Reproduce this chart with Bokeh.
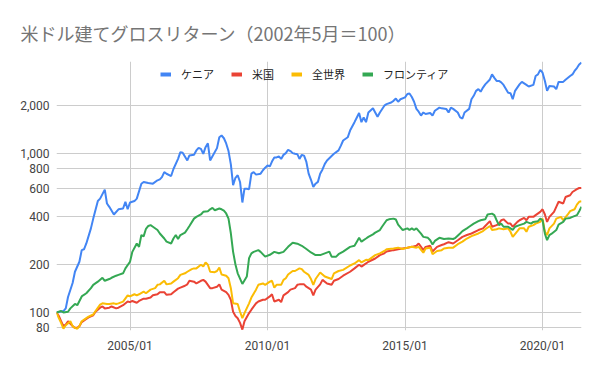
import calendar
import datetime as dt
from bokeh.plotting import figure
from bokeh.models import (FixedTicker, Legend, LegendItem, Title, Range1d,
                          DatetimeTickFormatter, NumeralTickFormatter)
from bokeh.embed import file_html
from bokeh.resources import INLINE

title_text = "米ドル建てグロスリターン（2002年5月＝100）"
series_names = ["ケニア", "米国", "全世界", "フロンティア"]
series_colors = ["#4285F4", "#EA4335", "#FBBC04", "#34A853"]
start_year, start_month = 2002, 5
end_month_index = 229
x_tick_labels = ["2005/01", "2010/01", "2015/01", "2020/01"]
y_ticks = [80, 100, 200, 400, 600, 800, 1000, 2000]
y_min, y_max = 77, 3760

# (months since 2002/05, index value)
kenya = [(0,100),(3,102),(4,106),(5,125),(7,153),(8,180),(10,208),(11,246),(12,249),(13,271),(15,337),(16,388),(18,501),(19,518),(21,590),(22,483),(23,460),(25,412),(27,444),(29,449),(30,494),(31,444),(32,490),(34,500),(35,518),(37,643),(38,659),(40,649),(42,643),(44,675),(45,684),(46,707),(47,760),(48,742),(50,718),(51,795),(53,921),(54,1015),(55,1005),(57,900),(58,967),(60,977),(61,1040),(62,1080),(63,1064),(64,990),(65,1090),(66,1153),(67,900),(69,1015),(70,1075),(71,1257),(72,1290),(73,1240),(74,1150),(75,1030),(76,850),(77,630),(78,700),(79,726),(80,659),(81,490),(82,598),(83,598),(84,594),(85,743),(86,760),(87,733),(89,743),(90,781),(91,810),(92,836),(93,825),(94,885),(95,940),(96,940),(97,955),(98,920),(99,975),(100,1000),(101,1050),(102,1030),(103,1000),(104,990),(105,985),(106,920),(107,975),(108,965),(109,880),(110,743),(111,680),(112,613),(113,643),(114,660),(115,743),(116,790),(117,856),(118,900),(120,960),(121,990),(123,1040),(124,1115),(125,1200),(127,1257),(128,1385),(130,1564),(131,1675),(132,1785),(133,1564),(134,1675),(135,1564),(136,1800),(138,1910),(139,1800),(140,1690),(141,1800),(143,1985),(144,2030),(146,2080),(147,2130),(148,2200),(149,2100),(150,2180),(152,2240),(153,2350),(154,2370),(155,2250),(156,2100),(157,1895),(158,1820),(159,1720),(160,1800),(161,1760),(163,1785),(164,1720),(165,1845),(167,1930),(168,1910),(170,1895),(171,1800),(172,1930),(173,1895),(175,1800),(176,1675),(177,1650),(178,1800),(180,1895),(181,2180),(182,2290),(183,2460),(184,2520),(185,2430),(186,2580),(187,2700),(189,2900),(190,3120),(191,2970),(192,2840),(193,2840),(194,2780),(195,2680),(197,2390),(198,2380),(199,2180),(200,2460),(202,2700),(203,2800),(205,2680),(206,2620),(208,2680),(209,3050),(210,3120),(211,3330),(212,3200),(213,2840),(214,2460),(215,2640),(217,2620),(218,2520),(219,2800),(221,2800),(222,2890),(224,3050),(225,3120),(226,3280),(227,3420),(228,3600),(229,3700)]

usa = [(0,100),(1,95),(2,88),(3,82),(4,84),(5,88),(7,82),(8,80),(9,80),(10,82),(11,87),(13,91),(14,93),(16,96),(17,101),(19,107),(20,109),(21,106),(23,107),(24,109),(26,106),(27,107),(29,111),(31,117),(32,116),(33,118),(35,115),(36,118),(38,122),(39,122),(41,124),(42,128),(44,130),(45,134),(47,134),(48,129),(50,130),(51,134),(53,141),(54,143),(56,147),(57,150),(58,158),(60,156),(61,152),(63,158),(64,160),(65,156),(67,142),(68,142),(70,145),(71,150),(72,139),(74,134),(75,129),(76,120),(77,101),(78,95),(79,92),(80,86),(81,78),(82,88),(84,99),(85,104),(87,114),(88,117),(90,120),(91,120),(93,126),(94,130),(95,117),(97,120),(98,116),(99,128),(101,134),(102,139),(104,142),(105,149),(106,150),(108,150),(109,145),(111,139),(112,128),(113,139),(115,150),(116,160),(118,152),(120,149),(121,158),(123,162),(125,170),(128,180),(130,189),(132,199),(133,194),(135,203),(136,208),(139,218),(141,229),(143,235),(144,241),(147,246),(149,249),(151,252),(153,255),(155,258),(157,262),(158,271),(160,246),(161,258),(163,262),(164,241),(166,258),(168,265),(169,268),(171,276),(173,271),(175,284),(177,298),(179,306),(181,313),(184,329),(186,337),(187,349),(189,374),(190,345),(192,353),(193,361),(194,379),(195,384),(197,361),(198,361),(199,345),(201,370),(202,379),(204,392),(205,379),(206,398),(208,398),(209,408),(211,428),(212,444),(213,412),(214,370),(215,398),(217,428),(218,460),(219,495),(221,483),(222,530),(224,544),(225,570),(227,594),(228,604),(229,604)]

world = [(0,100),(1,92),(2,86),(3,79),(4,83),(6,88),(7,82),(8,80),(9,79),(10,82),(11,88),(13,92),(14,94),(16,97),(17,102),(19,112),(20,114),(22,113),(23,113),(25,114),(26,113),(27,114),(29,117),(31,128),(32,126),(34,130),(35,128),(36,130),(38,135),(39,132),(41,139),(43,142),(44,149),(45,150),(47,158),(48,150),(50,152),(51,156),(53,164),(54,172),(56,176),(57,180),(59,187),(60,189),(61,189),(63,199),(64,194),(65,206),(66,199),(67,180),(69,179),(70,182),(71,191),(72,173),(74,170),(75,164),(76,142),(77,114),(79,113),(80,101),(81,92),(82,99),(84,114),(85,124),(87,139),(88,149),(90,152),(91,149),(93,156),(94,158),(95,143),(96,149),(98,149),(99,160),(100,164),(101,173),(103,182),(104,182),(106,189),(107,187),(108,180),(110,172),(111,162),(112,149),(113,162),(115,178),(117,168),(120,162),(121,176),(123,182),(125,185),(128,197),(130,203),(132,213),(133,206),(135,214),(136,213),(139,229),(141,235),(143,243),(144,249),(147,252),(149,255),(151,250),(153,255),(155,258),(157,255),(158,258),(160,237),(161,252),(163,255),(164,232),(166,243),(168,246),(169,252),(171,255),(173,255),(175,268),(177,278),(179,291),(181,301),(184,313),(186,324),(187,333),(189,349),(190,329),(192,333),(193,337),(195,333),(197,337),(198,321),(199,298),(201,324),(202,337),(204,337),(205,321),(206,345),(208,353),(209,361),(211,370),(212,388),(213,321),(214,306),(215,337),(217,361),(218,388),(220,398),(221,379),(223,412),(224,432),(226,444),(227,475),(228,495),(229,499)]

frontier = [(0,100),(2,102),(3,100),(5,101),(6,106),(8,113),(9,111),(11,126),(12,129),(13,132),(15,142),(16,149),(18,156),(20,165),(21,158),(23,162),(24,165),(26,170),(27,172),(29,176),(30,189),(32,208),(33,240),(35,271),(36,258),(37,306),(38,300),(39,335),(40,349),(41,353),(42,345),(44,329),(45,313),(47,291),(48,278),(50,271),(51,291),(52,306),(53,289),(54,306),(56,317),(57,333),(58,349),(60,388),(61,398),(63,412),(64,428),(66,432),(67,444),(68,453),(69,438),(71,449),(72,444),(73,435),(74,418),(75,388),(76,314),(77,240),(78,200),(79,176),(81,151),(83,168),(84,219),(85,235),(86,240),(88,246),(89,240),(91,224),(93,230),(95,240),(97,235),(99,240),(101,258),(103,274),(105,270),(107,262),(109,250),(111,238),(113,229),(115,229),(117,235),(119,241),(120,224),(122,224),(123,232),(125,241),(128,258),(130,262),(131,278),(132,294),(133,278),(135,291),(136,298),(138,309),(139,317),(141,329),(142,345),(144,379),(145,384),(147,388),(148,383),(149,356),(151,329),(153,337),(154,329),(155,337),(156,329),(157,337),(159,312),(160,298),(162,294),(163,284),(164,267),(165,281),(167,294),(169,289),(171,291),(173,289),(174,294),(176,313),(177,324),(179,337),(180,345),(182,361),(184,374),(185,379),(187,384),(188,412),(190,417),(191,408),(192,379),(193,353),(194,361),(195,345),(197,345),(198,337),(199,329),(200,345),(202,353),(204,361),(205,370),(207,361),(208,370),(210,374),(211,388),(212,379),(213,312),(214,284),(215,306),(216,312),(218,329),(219,356),(221,370),(222,388),(224,392),(225,398),(227,408),(228,432),(229,460)]

all_series = [kenya, usa, world, frontier]


def month_to_date(m):
    t = start_month - 1 + m
    return dt.datetime(start_year + t // 12, t % 12 + 1, 1)


def to_ms(d):
    return calendar.timegm(d.timetuple()) * 1000.0


p = figure(width=584, height=355, x_axis_type="datetime", y_axis_type="log",
           x_range=Range1d(month_to_date(0), month_to_date(end_month_index)),
           y_range=Range1d(y_min, y_max),
           output_backend="svg", toolbar_location=None,
           min_border_left=56, min_border_right=3,
           min_border_top=61, min_border_bottom=24)
p.outline_line_color = None
p.background_fill_color = "white"
p.border_fill_color = "white"

p.add_layout(Title(text=title_text, text_font="Noto Sans CJK JP",
                   text_font_size="18px", text_color="#757575",
                   text_font_style="normal", align="left", offset=-36,
                   standoff=32), "above")

# axes
x_ticks = [to_ms(dt.datetime(int(s[:4]), int(s[5:]), 1)) for s in x_tick_labels]
p.xaxis.ticker = FixedTicker(ticks=x_ticks)
fmt = "%Y/%m"
p.xaxis.formatter = DatetimeTickFormatter(years=fmt, months=fmt, days=fmt, hours=fmt,
                                          minutes=fmt, seconds=fmt, milliseconds=fmt,
                                          microseconds=fmt, minsec=fmt, hourmin=fmt)
p.yaxis.ticker = FixedTicker(ticks=y_ticks)
p.yaxis.formatter = NumeralTickFormatter(format="0,0")
for ax in (p.xaxis[0], p.yaxis[0]):
    ax.axis_line_color = None
    ax.major_tick_line_color = None
    ax.minor_tick_line_color = None
    ax.major_tick_out = 0
    ax.major_tick_in = 0
    ax.minor_tick_out = 0
    ax.major_label_text_font = "Roboto"
    ax.major_label_text_font_size = "12px"
    ax.major_label_text_color = "#444444"
p.xaxis.major_label_standoff = 8
p.yaxis.major_label_standoff = 7

p.xgrid.grid_line_color = "#cccccc"
p.ygrid.grid_line_color = "#cccccc"
p.xgrid.grid_line_width = 1
p.ygrid.grid_line_width = 1

items = []
for name, color, data in zip(series_names, series_colors, all_series):
    xs = [month_to_date(m) for m, _ in data]
    ys = [v for _, v in data]
    p.line(xs, ys, line_color=color, line_width=2)
    dummy = p.line(x=[xs[0]], y=[float("nan")], line_color=color, line_width=4)
    items.append(LegendItem(label=name, renderers=[dummy]))

legend = Legend(items=items, orientation="horizontal", location=(104, 248),
                padding=0, margin=0, spacing=17, label_standoff=10,
                glyph_width=11, glyph_height=12, label_height=12,
                label_text_font="Noto Sans CJK JP", label_text_font_size="11px",
                label_text_color="#222222", border_line_color=None,
                background_fill_alpha=0)
p.add_layout(legend)

open("out.html", "w").write(file_html(p, INLINE))
